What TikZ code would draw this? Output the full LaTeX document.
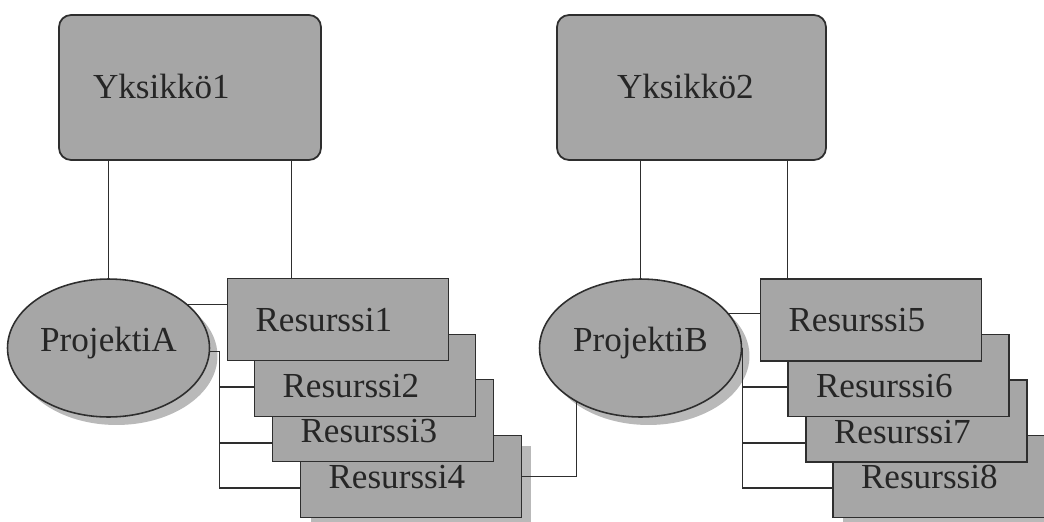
\documentclass[tikz,border=0pt]{standalone}
\usepackage{fontspec}
\setmainfont{Liberation Serif}
\usetikzlibrary{shapes.geometric,shadows}
\definecolor{OrgFill}{HTML}{A6A6A6}
\definecolor{OrgShade}{HTML}{B9B9B9}
\definecolor{OrgLine}{HTML}{2E2E2E}

\tikzset{
  orgtext/.style={font=\fontsize{20}{24}\selectfont,text=black!85},
  unitbox/.style={orgtext,draw=OrgLine,line width=1pt,fill=OrgFill,rounded corners=0.24cm,
    minimum height=2.9cm,align=left,text height=13pt,text depth=0pt},
  projell/.style={orgtext,ellipse,draw=OrgLine,line width=0.9pt,fill=OrgFill,inner sep=0pt,
    minimum width=4.04cm,minimum height=2.76cm,text height=13.5pt,text depth=9pt,
    drop shadow={fill=OrgShade,opacity=1,shadow xshift=0.16cm,shadow yshift=-0.16cm}},
  resbox/.style={orgtext,draw=OrgLine,line width=0.9pt,fill=OrgFill,minimum height=1.64cm,
    text width=3.3cm,inner xsep=0.56cm,align=left,text height=13.5pt,text depth=0pt},
  lowtext/.style={text height=25.5pt},
  lastres/.style={drop shadow={fill=OrgShade,opacity=1,shadow xshift=0.2cm,shadow yshift=-0.2cm}},
  link/.style={draw=OrgLine,line width=0.6pt}
}

\begin{document}
\begin{tikzpicture}[x=0.02cm,y=-0.02cm]
\path[use as bounding box] (0,0) rectangle (1044,521);
\clip (0,0) rectangle (1044,521);

% yksikot
\node[unitbox,text width=3.88cm,inner xsep=0.68cm] (y1) at (190,87.5) {Yksikkö1};
\node[unitbox,text width=2.98cm,inner xsep=1.2cm] (y2) at (691.5,87.5) {Yksikkö2};

% projekti A ja sen resurssit (alimmasta ylimpaan)
\node[projell] (pa) at (108.5,348) {ProjektiA};
\node[resbox,lastres] (r4) at (411,476.5) {Resurssi4};
\node[resbox,lowtext] (r3) at (383,420.5) {Resurssi3};
\node[resbox,lowtext] (r2) at (365,375.5) {Resurssi2};
\node[resbox] (r1) at (338,319.5) {Resurssi1};

% projekti B ja sen resurssit
\node[projell] (pb) at (640.5,348) {ProjektiB};
\node[resbox,lastres] (r8) at (943.5,476.5) {Resurssi8};
\node[resbox,lowtext] (r7) at (916.5,421) {Resurssi7};
\node[resbox,lowtext] (r6) at (898.5,375.5) {Resurssi6};
\node[resbox] (r5) at (871,320) {Resurssi5};

\coordinate (y1r) at ([xshift=1.3cm]r1.north west);
\coordinate (y2r) at ([xshift=0.56cm]r5.north west);
\coordinate (ja) at ([xshift=0.18cm]pa.east);
\coordinate (r2in) at ([yshift=-0.23cm]r2.west);
\coordinate (r3in) at ([yshift=-0.45cm]r3.west);
\coordinate (r4in) at ([yshift=-0.23cm]r4.west);
\coordinate (r6in) at ([yshift=-0.23cm]r6.west);
\coordinate (r7in) at ([yshift=-0.44cm]r7.west);
\coordinate (r8in) at ([yshift=-0.23cm]r8.west);

% yhteydet
\draw[link] (pa.north |- y1.south) -- (pa.north);
\draw[link] (y1r |- y1.south) -- (y1r);
\draw[link] (pb.north |- y2.south) -- (pb.north);
\draw[link] (y2r |- y2.south) -- (y2r);

\draw[link] (pa.29) -- (pa.29 -| r1.west);
\draw[link] (pa.-2) -- (pa.-2 -| ja) -- (ja |- r4in) -- (r4in);
\draw[link] (ja |- r2in) -- (r2in);
\draw[link] (ja |- r3in) -- (r3in);
\draw[link] (r4.east) -| (pb.220);

\draw[link] (pb.21) -- (pb.21 -| r5.west);
\draw[link] (pb.east) -- (pb.east |- r8in) -- (r8in);
\draw[link] (pb.east |- r6in) -- (r6in);
\draw[link] (pb.east |- r7in) -- (r7in);
\end{tikzpicture}
\end{document}
